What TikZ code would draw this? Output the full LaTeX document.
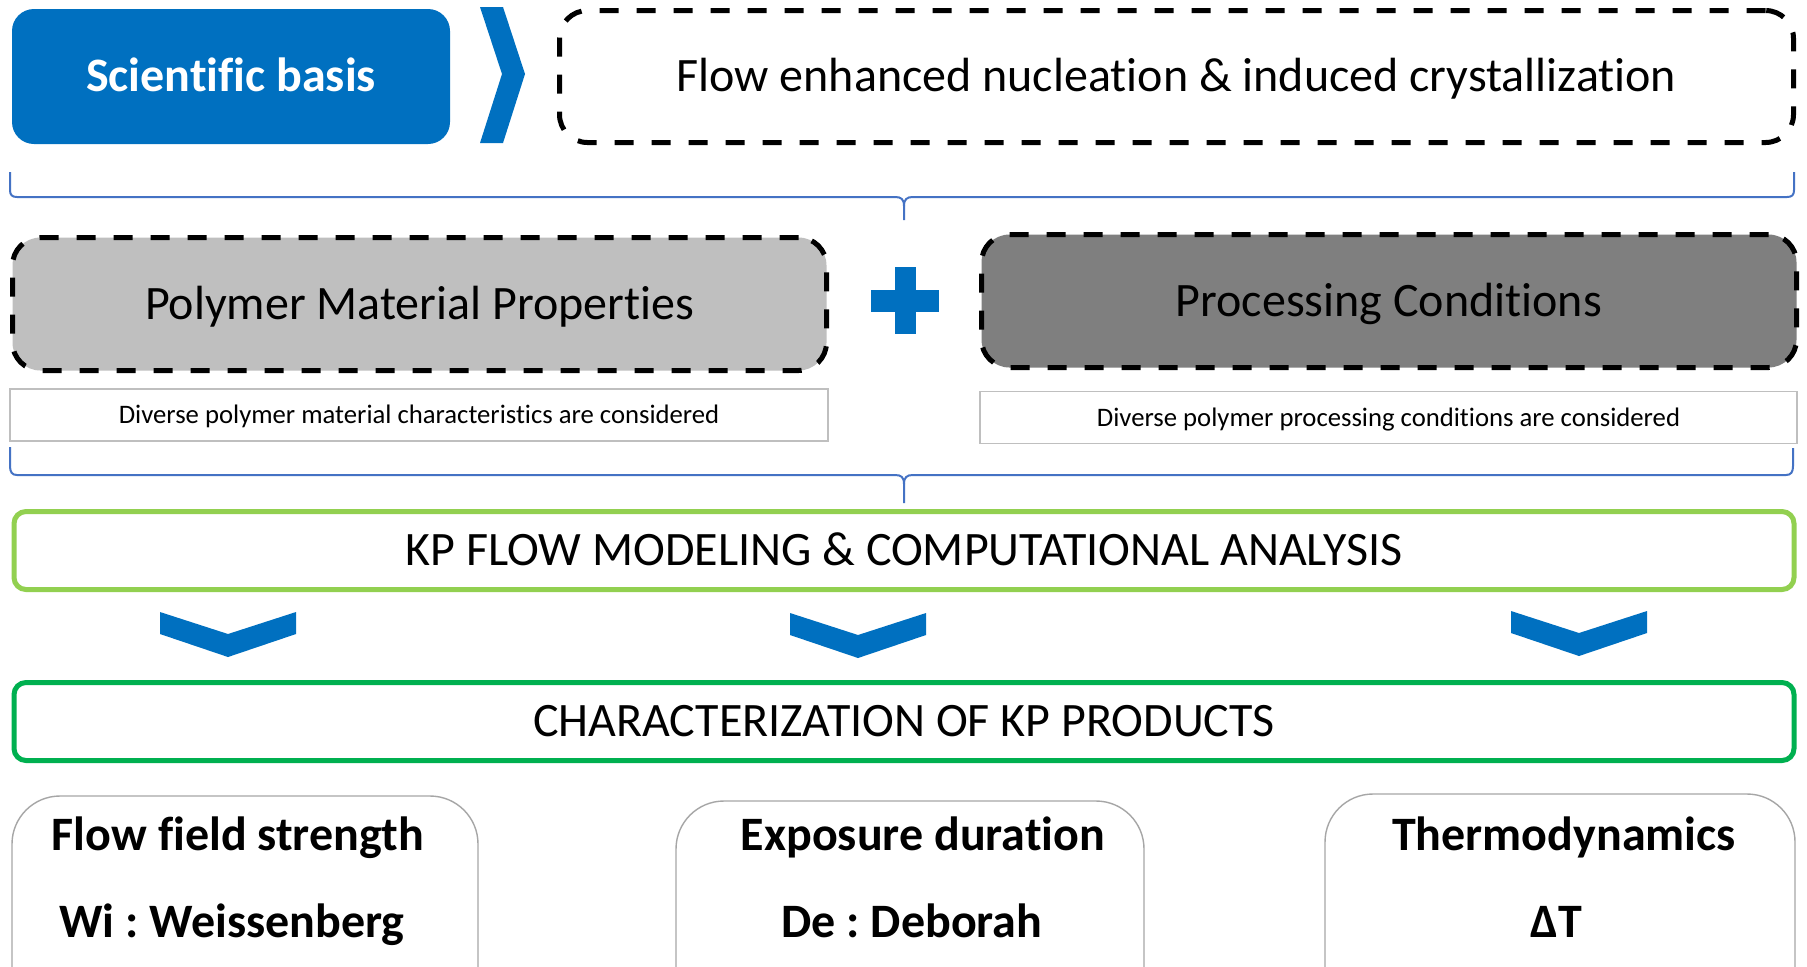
\documentclass[tikz,border=0pt]{standalone}
\usepackage{fontspec}
\setmainfont{Carlito}[Ligatures=CommonOff]
\frenchspacing
\definecolor{mblue}{RGB}{0,112,192}
\definecolor{braceblue}{RGB}{68,114,196}
\definecolor{lgray}{RGB}{191,191,191}
\definecolor{dgray}{RGB}{127,127,127}
\definecolor{lgreen}{RGB}{146,208,80}
\definecolor{dgreen}{RGB}{0,176,80}
\definecolor{capgray}{RGB}{191,191,191}
\definecolor{softgray}{RGB}{166,166,166}
\begin{document}
\begin{tikzpicture}[x=0.5pt,y=-0.5pt,
  every node/.style={inner sep=0pt, outer sep=0pt},
  capc/.style={text height=#1, text depth=0pt},
  bigfont/.style={font=\fontsize{24}{29}\selectfont, capc=15.3pt},
  dashbox/.style={draw=black, line width=2.5pt, dash pattern=on 9.5pt off 9pt, rounded corners=14pt},
  greenbox/.style={draw=#1, line width=2.5pt, rounded corners=6pt, fill=white,
    minimum width=890pt, minimum height=39pt, bigfont},
  capbox/.style={draw=capgray, line width=0.8pt, fill=white,
    minimum height=26pt, font=\fontsize{13.35}{16}\selectfont, capc=8.5pt},
  infobox/.style={draw=softgray, line width=0.7pt, rounded corners=24pt, fill=white},
  infotext/.style={anchor=base, font=\bfseries\fontsize{24}{29}\selectfont},
  brace/.style={draw=braceblue, line width=1pt},
  chev/.style={fill=mblue, draw=none}]
\clip (0,0) rectangle (1807,966);
\fill[white] (0,0) rectangle (1807,966);

% --- top row: scientific basis ---
\node[fill=mblue, rounded corners=11pt, minimum width=219pt, minimum height=67.5pt,
  text=white, font=\bfseries\fontsize{24}{29}\selectfont, capc=15.3pt]
  (sci) at (231,76.5) {Scientific basis};
\fill[chev] (480,7) -- (503,7) -- (525,74) -- (503,143) -- (480,143) -- (502,74) -- cycle;
\node[dashbox, minimum width=617pt, minimum height=66pt, bigfont]
  (flow) at (1176.5,76.5) {Flow enhanced nucleation \& induced crystallization};

% --- upper brace ---
\draw[brace] (10,172) -- (10,190) .. controls (10,195) and (12,197) .. (17,197) -- (895,197)
  .. controls (901,197) and (904,199) .. (904,206) -- (904,220);
\draw[brace] (904,206) .. controls (904,199) and (907,197) .. (913,197) -- (1787,197)
  .. controls (1792,197) and (1794,195) .. (1794,190) -- (1794,172);

% --- material and processing ---
\node[dashbox, fill=lgray, minimum width=407pt, minimum height=66.5pt, bigfont]
  (poly) at (419.5,304) {Polymer Material Properties};
\fill[mblue] (894.5,267) rectangle (915.5,334);
\fill[mblue] (871,289.5) rectangle (939,311.5);
\node[dashbox, fill=dgray, minimum width=407.5pt, minimum height=66.5pt, bigfont]
  (proc) at (1389,301) {Processing Conditions};

\node[capbox, minimum width=409pt] (capl) at (419,415)
  {Diverse polymer material characteristics are considered};
\node[capbox, minimum width=408.5pt] (capr) at (1388.5,417.5)
  {Diverse polymer processing conditions are considered};

% --- lower brace ---
\draw[brace] (10,447) -- (10,466) .. controls (10,472) and (12,475) .. (17,475) -- (895,475)
  .. controls (901,475) and (904,477) .. (904,484) -- (904,503);
\draw[brace] (904,484) .. controls (904,477) and (907,475) .. (913,475) -- (1786,475)
  .. controls (1791,475) and (1793,472) .. (1793,466) -- (1793,448);

% --- modeling and characterization ---
\node[greenbox=lgreen] (model) at (904,550.5) {KP FLOW MODELING \& COMPUTATIONAL ANALYSIS};
\foreach \cx/\dy in {228/0,858/1,1579/-1}{
  \fill[chev] (\cx-68,612+\dy) -- (\cx,634+\dy) -- (\cx+68,612+\dy) -- (\cx+68,634+\dy)
    -- (\cx,657+\dy) -- (\cx-68,634+\dy) -- cycle;
}
\node[greenbox=dgreen] (charac) at (904,721.5) {CHARACTERIZATION OF KP PRODUCTS};

% --- dimensionless groups ---
\node[infobox, minimum width=233pt, minimum height=120pt, anchor=north] (wi) at (245,796) {};
\node[infobox, minimum width=234pt, minimum height=120pt, anchor=north] (de) at (910,801) {};
\node[infobox, minimum width=235pt, minimum height=120pt, anchor=north] (dt) at (1560,794) {};
\node[infotext] (wit) at (238,850) {Flow field strength};
\node[infotext] (wil) at (232,937) {Wi : Weissenberg};
\node[infotext] (det) at (923,850) {Exposure duration};
\node[infotext] (del) at (912,937) {De : Deborah};
\node[infotext] (dtt) at (1564,850) {Thermodynamics};
\node[infotext] (dtl) at (1556,937) {ΔT};
\end{tikzpicture}
\end{document}
